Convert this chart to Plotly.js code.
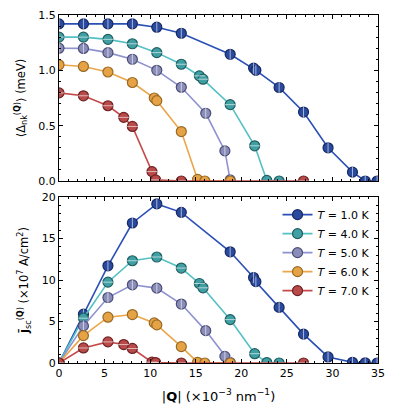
<!DOCTYPE html>
<html>
<head>
<meta charset="utf-8">
<script src="https://cdn.plot.ly/plotly-3.0.1.min.js"></script>
<style>html,body{margin:0;padding:0;background:#fff;}#chart{width:396px;height:413px;}</style>
</head>
<body>
<div id="chart"></div>
<script>
// ---- data ----
var labels = ["<i>T</i> = 1.0 K", "<i>T</i> = 4.0 K", "<i>T</i> = 5.0 K", "<i>T</i> = 6.0 K", "<i>T</i> = 7.0 K"];

var qT1 = [0, 2.68, 5.37, 8.05, 10.73, 13.42, 18.78, 21.35, 21.6, 24.15, 26.83, 29.52, 32.2, 33.6, 34.9];
var gapT1 = [1.42, 1.42, 1.42, 1.42, 1.39, 1.335, 1.145, 1.02, 1.0, 0.845, 0.623, 0.30, 0.08, 0.0, 0.0];
var jT1 = [0, 5.88, 11.71, 16.87, 19.17, 18.15, 13.4, 10.3, 9.8, 6.7, 3.48, 0.73, 0.08, 0.02, 0.0];

var qT4 = [0, 2.68, 5.37, 8.05, 10.73, 13.42, 15.4, 15.8, 18.78, 21.47, 22.8, 24.15];
var gapT4 = [1.30, 1.30, 1.28, 1.24, 1.16, 1.055, 0.95, 0.92, 0.69, 0.318, 0.005, 0.0];
var jT4 = [0, 5.4, 9.74, 12.32, 12.77, 11.44, 9.58, 9.06, 5.23, 1.12, 0.05, 0.0];

var qT5 = [0, 2.68, 5.37, 8.05, 10.73, 13.42, 16.1, 18.2, 18.78];
var gapT5 = [1.20, 1.198, 1.16, 1.10, 1.0, 0.847, 0.612, 0.272, 0.01];
var jT5 = [0, 4.47, 7.89, 9.42, 9.02, 7.1, 3.9, 0.8, 0.05];

var qT6 = [0, 2.68, 5.37, 8.05, 10.45, 10.73, 13.42, 15.2, 16.0, 18.78];
var gapT6 = [1.05, 1.035, 0.985, 0.89, 0.75, 0.726, 0.447, 0.015, 0.0, 0.0];
var jT6 = [0, 3.3, 5.52, 5.84, 4.83, 4.59, 1.97, 0.08, 0.0, 0.0];

var qT7 = [0, 2.68, 5.37, 7.1, 8.05, 10.2, 10.6, 13.42, 26.83];
var gapT7 = [0.796, 0.77, 0.68, 0.575, 0.493, 0.085, 0.01, 0.0, 0.0];
var jT7 = [0, 1.81, 2.54, 2.22, 1.75, 0.1, 0.05, 0.0, 0.0];

// ---- styles ----
var series = [
  {q: qT1, g: gapT1, j: jT1, line: "#2b50b5", fill: "#2a4a9e", edge: "#162a66", mark: "line-ns"},
  {q: qT4, g: gapT4, j: jT4, line: "#52c0c4", fill: "#3f9fa3", edge: "#1f5e61", mark: "line-ew"},
  {q: qT5, g: gapT5, j: jT5, line: "#8e92cf", fill: "#8a8db8", edge: "#4a4d78", mark: "line-ns"},
  {q: qT6, g: gapT6, j: jT6, line: "#eba54a", fill: "#e5a346", edge: "#9a6a25", mark: null},
  {q: qT7, g: gapT7, j: jT7, line: "#c54a4a", fill: "#b84a4a", edge: "#6e2222", mark: "line-ew"}
];

var traces = [];
series.forEach(function (s, i) {
  [["y", s.g, "y"], ["y2", s.j, "y2"]].forEach(function (p, k) {
    traces.push({
      x: s.q, y: p[1], xaxis: k === 0 ? "x" : "x2", yaxis: p[2],
      mode: "lines+markers", type: "scatter",
      name: labels[i], legendgroup: "g" + i, showlegend: k === 1,
      line: {color: s.line, width: 1.6},
      marker: {symbol: "circle", size: 10, color: s.fill, line: {color: s.edge, width: 1.2}}
    });
    if (s.mark) {
      traces.push({
        x: s.q, y: p[1], xaxis: k === 0 ? "x" : "x2", yaxis: p[2],
        mode: "markers", type: "scatter", showlegend: false, hoverinfo: "skip",
        legendgroup: "g" + i,
        marker: {symbol: s.mark, size: 8, color: s.edge, line: {color: "rgba(255,255,255,0.6)", width: 1}}
      });
    }
  });
});

var axBase = {
  showline: true, linecolor: "#000", linewidth: 1, mirror: "allticks",
  ticks: "inside", ticklen: 4, tickwidth: 1, tickcolor: "#000",
  minor: {ticks: "inside", ticklen: 2, tickwidth: 0.8, tickcolor: "#000"},
  showgrid: false, zeroline: false,
  tickfont: {family: "DejaVu Sans", size: 11, color: "#000"}
};
function ax(extra) { return Object.assign({}, JSON.parse(JSON.stringify(axBase)), extra); }

var layout = {
  width: 396, height: 413,
  margin: {l: 59, r: 18, t: 15, b: 50},
  paper_bgcolor: "#fff", plot_bgcolor: "#fff",
  font: {family: "DejaVu Sans", color: "#000"},
  showlegend: true,
  legend: {x: 0.685, y: 0.468, xanchor: "left", yanchor: "top", bgcolor: "rgba(0,0,0,0)",
           font: {family: "DejaVu Sans", size: 11}, tracegroupgap: 0, itemwidth: 30},
  xaxis: ax({domain: [0, 1], range: [0, 35], anchor: "y", dtick: 5, showticklabels: false,
             minor: {ticks: "inside", ticklen: 2, dtick: 1, tickcolor: "#000"}}),
  yaxis: ax({domain: [0.523, 1], range: [0, 1.5], anchor: "x", dtick: 0.5, tickformat: ".1f",
             minor: {ticks: "inside", ticklen: 2, dtick: 0.1, tickcolor: "#000"},
             title: {text: "⟨Δ<sub>nk</sub><sup>(<b>Q</b>)</sup>⟩ (meV)", font: {size: 11.5}, standoff: 10}}),
  xaxis2: ax({domain: [0, 1], range: [0, 35], anchor: "y2", dtick: 5,
              minor: {ticks: "inside", ticklen: 2, dtick: 1, tickcolor: "#000"},
              title: {text: "|<b>Q</b>| (×10<sup>−3</sup> nm<sup>−1</sup>)", font: {size: 13}, standoff: 12}}),
  yaxis2: ax({domain: [0, 0.477], range: [0, 20], anchor: "x2", dtick: 5,
              minor: {ticks: "inside", ticklen: 2, dtick: 1, tickcolor: "#000"},
              title: {text: "<b>j̄</b><sub>sc</sub><sup>(<b>Q</b>)</sup> (×10<sup>7</sup> A/cm<sup>2</sup>)", font: {size: 11.5}, standoff: 10}})
};

Plotly.newPlot("chart", traces, layout, {staticPlot: true, displayModeBar: false});
</script>
</body>
</html>
